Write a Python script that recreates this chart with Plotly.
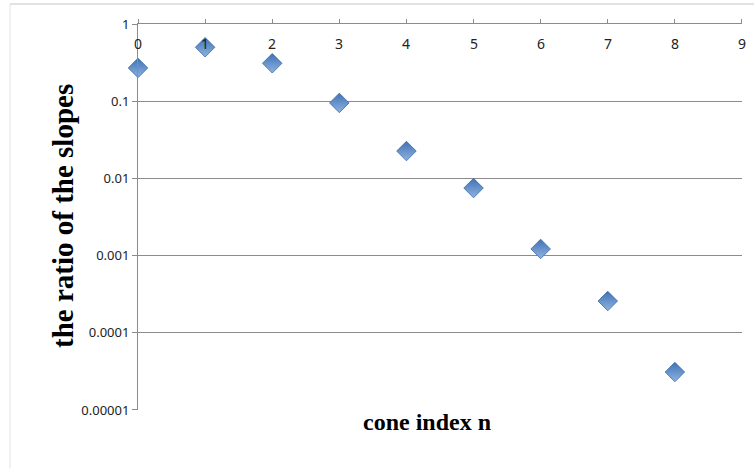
import plotly.graph_objects as go

# cone index and slope ratio per cone
cone_index = [0, 1, 2, 3, 4, 5, 6, 7, 8]
slope_ratio = [0.27, 0.50, 0.31, 0.095, 0.0226, 0.0075, 0.00122, 0.000258, 0.000031]

x_ticks = list(range(0, 10))
y_tick_vals = [1, 0.1, 0.01, 0.001, 0.0001, 0.00001]
y_tick_text = ["1", "0.1", "0.01", "0.001", "0.0001", "0.00001"]

W, H = 754, 468
L, R, T, B = 138, 12, 24, 58

fig = go.Figure()
fig.add_trace(go.Scatter(
    x=cone_index, y=slope_ratio, mode="markers",
    marker=dict(symbol="diamond", size=15, color="#3f72b4",
                gradient=dict(type="vertical", color="#8fb3e2"),
                line=dict(color="#3a68a3", width=0.8)),
    showlegend=False, cliponaxis=False,
))

grid = "#8c8c8c"
eps = 1e-4
fig.update_layout(
    width=W, height=H,
    margin=dict(l=L, r=R, t=T, b=B),
    paper_bgcolor="white", plot_bgcolor="white",
    font=dict(family="Noto Sans", size=13, color="#222"),
    xaxis=dict(
        range=[0 - eps, 9 + eps], side="top", tickvals=x_ticks,
        ticks="outside", ticklen=4, tickcolor=grid,
        showticklabels=False,
        showgrid=False, zeroline=False,
        showline=True, linecolor=grid, linewidth=1,
    ),
    yaxis=dict(
        type="log", range=[-5 - eps, 0 + eps],
        tickvals=y_tick_vals, ticktext=y_tick_text,
        ticks="outside", ticklen=5, tickcolor=grid,
        showgrid=True, gridcolor=grid, gridwidth=1,
        showline=True, linecolor=grid, linewidth=1,
        zeroline=False, tickfont=dict(size=13),
    ),
)

# x tick labels sit under the axis line at the top of the plot
for t in x_ticks:
    fig.add_annotation(text=str(t), x=t, y=0, xref="x", yref="y",
                       yanchor="top", yshift=-8, showarrow=False,
                       font=dict(family="Noto Sans", size=14, color="#222"))

# outer chart-area border (top and left edges)
pw, ph = W - L - R, H - T - B
px = lambda v: (v - L) / pw
py = lambda v: (H - B - v) / ph
fig.add_shape(type="line", xref="paper", yref="paper",
              x0=px(10), x1=px(754), y0=py(4), y1=py(4),
              line=dict(color="#c4c4c4", width=1))
fig.add_shape(type="line", xref="paper", yref="paper",
              x0=px(10), x1=px(10), y0=py(4), y1=py(468),
              line=dict(color="#e2e2e2", width=1))

fig.add_annotation(text="<b>cone index n</b>", xref="paper", yref="paper",
                   x=px(427), y=py(437), showarrow=False,
                   font=dict(family="Liberation Serif", size=24, color="black"))
fig.add_annotation(text="<b>the ratio of the slopes</b>", xref="paper", yref="paper",
                   x=px(45), y=py(216), showarrow=False, textangle=-90,
                   font=dict(family="Liberation Serif", size=29, color="black"))

fig.write_html("out.html")
